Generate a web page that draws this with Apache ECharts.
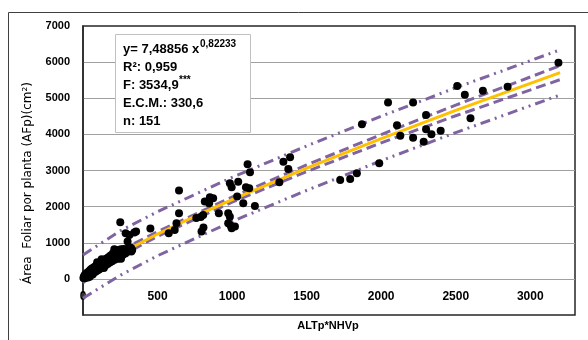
<!DOCTYPE html>
<html>
<head>
<meta charset="utf-8">
<script src="https://cdn.jsdelivr.net/npm/echarts@6/dist/echarts.min.js"></script>
<style>
  html, body { margin: 0; padding: 0; background: #fff; }
  #chart { width: 588px; height: 340px; }
</style>
</head>
<body>
<div id="chart"></div>
<script>
// puntos observados (ALTp*NHVp, AFp)
const plantas = [
  [250,1568],[286,1264],[311,1217],[344,1281],[356,1308],[299,1032],[324,755],[452,1392],
  [575,1264],[615,1355],[627,1540],[644,1817],[644,2443],[760,1685],[790,1715],[795,1309],
  [808,1420],[806,1771],[817,2139],[846,2093],[873,2232],[851,2259],[911,1817],[974,1817],
  [985,1723],[974,1541],[997,1402],[1019,1447],[990,1480],[985,2647],[997,2537],[1034,2277],
  [1041,2692],[1075,2093],[1093,2537],[1115,2508],[1104,3173],[1120,2951],[1153,2019],[1317,2675],
  [1344,3245],[1389,3370],[1377,3043],[1725,2739],[1792,2766],[1837,2924],[1871,4279],[1987,3200],
  [2046,4880],[2214,4880],[2301,4537],[2106,4256],[2128,3960],[2214,3909],[2285,3798],[2301,4141],
  [2337,4003],[2399,4103],[2510,5339],[2561,5100],[2599,4445],[2682,5209],[2848,5320],[3189,5980],
  // plantas chicas, agrupadas cerca del origen
  [3,25],[6,60],[8,15],[10,90],[12,40],[15,120],[18,30],[20,75],[22,140],[25,60],
  [28,170],[30,100],[33,40],[35,190],[38,130],[40,80],[43,220],[46,150],[48,100],[50,250],
  [53,180],[56,120],[58,280],[60,210],[63,150],[66,300],[70,240],[73,180],[76,330],[80,270],
  [84,200],[88,360],[92,300],[96,230],[100,400],[104,330],[108,260],[112,440],[116,370],[120,300],
  [125,470],[130,400],[135,330],[140,510],[145,440],[150,370],[155,560],[160,480],[165,410],[170,600],
  [175,520],[180,450],[185,650],[190,560],[195,490],[200,700],[206,610],[212,530],[218,760],[224,660],
  [230,580],[236,800],[242,700],[248,620],[254,820],[260,740],[266,660],[272,830],[278,760],[284,700],
  [290,820],[298,750],[306,840],[314,780],[322,860],[330,800],[210,820],[235,560],[160,560],[120,450],
  [90,380],[65,120],[45,60],[140,300],[255,560],[95,460],[125,540]
];

// curva ajustada y bandas
const ajusteX = [0, 50, 100, 250, 500, 750, 1000, 1500, 2000, 2500, 3200];
const ajusteY = [0, 187, 330, 702, 1241, 1733, 2194, 3063, 3880, 4662, 5708];

const confX = [0, 100, 250, 500, 1000, 1500, 2000, 2500, 3200];
const confSup = [110, 420, 780, 1305, 2265, 3155, 3995, 4810, 5900];
const confInf = [-110, 240, 625, 1178, 2123, 2970, 3765, 4515, 5515];

const predX = [0, 250, 500, 1000, 1500, 2000, 2500, 3200];
const predSup = [664, 1330, 1860, 2810, 3680, 4500, 5290, 6340];
const predInf = [-534, 100, 640, 1590, 2450, 3270, 4050, 5090];

const myChart = echarts.init(document.getElementById('chart'));

const morado = '#8064a2';
const pares = (xs, ys) => xs.map((x, i) => [x, ys[i]]);

const banda = (xs, ys, tipo) => ({
  type: 'line',
  data: pares(xs, ys),
  symbol: 'none',
  silent: true,
  z: 2,
  lineStyle: { color: morado, width: 3, type: tipo }
});

const negrita = 'bold 13px "Liberation Sans", Arial, sans-serif';
const supFont = 'bold 10px "Liberation Sans", Arial, sans-serif';

const option = {
  animation: false,
  grid: {
    left: 83, right: 13, top: 26, bottom: 25,
    show: true,
    borderColor: '#262626',
    borderWidth: 1.5
  },
  xAxis: {
    type: 'value',
    min: 0, max: 3300, interval: 500,
    axisLine: { show: false },
    axisTick: { show: false },
    splitLine: { show: false },
    axisLabel: {
      inside: true, margin: 12, showMaxLabel: false,
      color: '#000', fontWeight: 'bold', fontSize: 12,
      fontFamily: '"Liberation Sans", Arial, sans-serif',
      formatter: v => String(v)
    }
  },
  yAxis: {
    type: 'value',
    min: -1000, max: 7000, interval: 1000,
    axisLine: { show: true, lineStyle: { color: '#262626', width: 1.5 } },
    axisTick: { show: false },
    splitLine: { showMinLine: false, showMaxLine: false, lineStyle: { color: '#a0a0a0' } },
    axisLabel: {
      margin: 13,
      color: '#000', fontWeight: 'bold', fontSize: 11,
      fontFamily: '"Liberation Sans", Arial, sans-serif',
      formatter: v => (v < 0 ? '' : String(v))
    }
  },
  series: [
    banda(predX, predSup, [10, 5, 2, 5, 2, 5]),
    banda(predX, predInf, [10, 5, 2, 5, 2, 5]),
    banda(confX, confSup, [10, 5]),
    banda(confX, confInf, [10, 5]),
    {
      type: 'line',
      data: pares(ajusteX, ajusteY),
      symbol: 'none',
      silent: true,
      z: 3,
      lineStyle: { color: '#ffc000', width: 3 }
    },
    {
      type: 'scatter',
      data: plantas,
      symbolSize: 8,
      z: 5,
      itemStyle: { color: '#000', opacity: 1 }
    }
  ],
  graphic: [
    // marco exterior
    { type: 'rect', z: 0, silent: true,
      shape: { x: 8.5, y: 12.5, width: 700, height: 500 },
      style: { fill: 'none', stroke: '#404040', lineWidth: 1 } },
    // cuadro de estadisticos
    { type: 'rect', z: 100,
      shape: { x: 115.5, y: 34.5, width: 135, height: 98 },
      style: { fill: '#fff', stroke: '#c0c0c0', lineWidth: 1 } },
    { type: 'text', z: 101, x: 123, y: 49,
      style: { text: 'y= 7,48856 x', font: negrita, fill: '#000', verticalAlign: 'middle' } },
    { type: 'text', z: 101, x: 200, y: 44,
      style: { text: '0,82233', font: supFont, fill: '#000', verticalAlign: 'middle' } },
    { type: 'text', z: 101, x: 123, y: 67,
      style: { text: 'R²: 0,959', font: negrita, fill: '#000', verticalAlign: 'middle' } },
    { type: 'text', z: 101, x: 123, y: 85,
      style: { text: 'F: 3534,9', font: negrita, fill: '#000', verticalAlign: 'middle' } },
    { type: 'text', z: 101, x: 179, y: 80,
      style: { text: '***', font: supFont, fill: '#000', verticalAlign: 'middle' } },
    { type: 'text', z: 101, x: 123, y: 103,
      style: { text: 'E.C.M.: 330,6', font: negrita, fill: '#000', verticalAlign: 'middle' } },
    { type: 'text', z: 101, x: 123, y: 121,
      style: { text: 'n: 151', font: negrita, fill: '#000', verticalAlign: 'middle' } },
    // titulos de ejes
    { type: 'text', z: 101, x: 28, y: 183, rotation: Math.PI / 2,
      style: { text: 'Área  Foliar por planta (AFp)(cm²)', font: '12px "DejaVu Sans", sans-serif',
               fill: '#000', align: 'center', verticalAlign: 'middle' } },
    { type: 'text', z: 101, x: 328, y: 326,
      style: { text: 'ALTp*NHVp', font: 'bold 11px "Liberation Sans", Arial, sans-serif',
               fill: '#000', align: 'center', verticalAlign: 'middle' } }
  ]
};

option && myChart.setOption(option);
</script>
</body>
</html>
